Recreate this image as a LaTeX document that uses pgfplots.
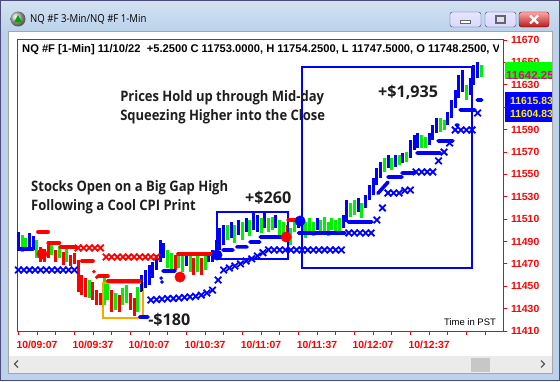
\documentclass[border=0pt]{standalone}
\usepackage{pgfplots}
\pgfplotsset{compat=1.18}
\usepackage{pgfplotstable}
\usepackage{fontspec}
\setmainfont{Liberation Sans}
\newfontfamily\uifont{Open Sans}[FakeStretch=0.875]
\IfFontExistsTF{Open Sans SemiBold}{\newfontfamily\annotf{Open Sans SemiBold}\newfontfamily\annotn{Open Sans SemiBold}[FakeStretch=0.9]\def\annot{\annotf}\def\annotnarrow{\annotn}}{\newfontfamily\annotf{Open Sans}\newfontfamily\annotn{Open Sans}[FakeStretch=0.9]\def\annot{\annotf\bfseries}\def\annotnarrow{\annotn\bfseries}}
\definecolor{frame}{HTML}{BCD2EA}
\definecolor{titletop}{HTML}{D3E2F2}
\definecolor{barblue}{HTML}{0000FF}
\definecolor{bargreen}{HTML}{00F000}
\definecolor{barred}{HTML}{FF0000}
\definecolor{boxorange}{HTML}{FFA500}
\definecolor{txt}{HTML}{1E1E1E}

\pgfplotstableread{
t lo hi
-10 11484.2 11498.4
-4 11485.1 11497.6
-2 11482.4 11494.9
56 11444.8 11460.0
58 11448.4 11464.5
60 11451.1 11469.0
62 11457.3 11471.6
64 11464.5 11477.9
66 11471.6 11491.3
68 11475.2 11488.7
80 11468.1 11480.6
92 11471.6 11479.7
94 11471.6 11482.4
96 11475.2 11491.3
98 11482.4 11502.0
100 11486.8 11504.7
104 11493.1 11507.4
108 11495.8 11509.2
112 11498.4 11511.0
116 11500.2 11515.4
118 11498.4 11513.6
122 11502.0 11515.4
128 11502.0 11513.6
140 11502.0 11511.0
150 11500.2 11511.0
164 11502.0 11513.6
166 11507.4 11527.0
172 11516.3 11528.8
176 11519.9 11531.5
178 11527.0 11540.4
180 11531.5 11546.7
182 11540.4 11555.6
184 11546.7 11561.0
188 11555.6 11567.2
192 11556.5 11567.2
196 11560.1 11569.0
200 11564.6 11580.7
202 11571.7 11585.1
204 11573.5 11586.9
210 11576.2 11586.9
212 11580.7 11594.1
214 11586.9 11600.3
220 11594.1 11605.7
222 11600.3 11616.4
224 11609.2 11625.3
226 11618.2 11638.7
228 11623.5 11643.2
232 11620.9 11636.0
234 11629.8 11647.7
236 11636.0 11650.3
}\bluebars

\pgfplotstableread{
t lo hi
-8 11480.6 11495.8
-6 11482.4 11493.1
0 11475.2 11491.3
8 11477.9 11488.7
12 11475.2 11486.0
16 11471.6 11484.2
28 11439.5 11455.6
36 11433.2 11457.3
38 11437.7 11455.6
42 11428.8 11443.9
46 11433.2 11448.4
48 11435.0 11451.1
54 11427.0 11449.3
70 11466.3 11482.4
72 11464.5 11479.7
76 11466.3 11480.6
78 11462.7 11478.8
82 11462.7 11477.9
86 11462.7 11477.0
90 11464.5 11477.9
102 11491.3 11504.7
106 11488.7 11504.7
110 11491.3 11507.4
114 11494.9 11509.2
120 11497.6 11511.0
124 11498.4 11511.0
126 11500.2 11511.8
130 11495.8 11509.2
132 11493.1 11507.4
136 11486.8 11502.0
138 11498.4 11509.2
142 11495.8 11509.2
144 11493.1 11507.4
146 11498.4 11511.0
148 11494.9 11507.4
152 11495.8 11509.2
154 11498.4 11511.8
156 11494.9 11507.4
158 11500.2 11511.0
160 11496.7 11509.2
162 11498.4 11511.0
168 11511.8 11524.4
170 11513.6 11527.0
174 11511.0 11524.4
186 11552.1 11564.6
190 11553.8 11564.6
194 11558.3 11567.2
198 11561.0 11569.9
206 11573.5 11585.1
208 11573.5 11583.3
216 11587.8 11600.3
218 11589.6 11598.5
230 11616.4 11629.8
238 11636.9 11647.7
}\greenbars

\pgfplotstableread{
t lo hi
2 11471.6 11485.1
4 11471.6 11483.3
6 11475.2 11486.8
10 11471.6 11482.4
14 11469.0 11480.6
18 11468.1 11477.9
20 11469.9 11479.7
22 11444.8 11473.4
24 11442.2 11460.0
26 11440.4 11457.3
30 11437.7 11453.8
32 11433.2 11446.6
34 11433.2 11443.9
40 11427.0 11446.6
44 11427.0 11442.2
50 11428.8 11443.9
52 11423.4 11439.5
74 11464.5 11477.9
84 11460.0 11475.2
88 11460.0 11475.2
134 11491.3 11504.7
}\redbars

\pgfplotstableread{
t p
-10 11464.5
-7 11464.5
-4 11464.5
-1 11464.5
2 11464.5
5 11464.5
8 11464.5
11 11464.5
14 11464.5
17 11464.5
20 11464.5
61 11437.7
64 11438.0
67 11438.5
70 11439.0
73 11439.0
76 11439.5
79 11440.0
82 11440.5
85 11441.0
88 11442.0
91 11444.0
94 11446.6
97 11455.6
100 11464.5
103 11466.3
106 11468.1
109 11470.0
112 11472.5
115 11474.5
118 11477.0
121 11480.0
124 11482.4
127 11482.4
130 11482.4
133 11482.4
136 11482.4
139 11482.4
142 11482.4
145 11482.4
148 11482.4
151 11482.4
154 11482.4
157 11482.4
160 11482.4
163 11482.4
167 11497.6
170 11497.6
173 11497.6
176 11497.6
179 11497.6
182 11509.2
185 11520.0
188 11533.3
191 11533.3
194 11533.3
197 11535.5
200 11536.0
203 11552.1
206 11552.1
209 11552.1
212 11552.1
215 11562.0
218 11569.9
221 11578.0
224 11589.6
227 11589.6
230 11589.6
233 11589.6
236 11604.8
}\bluex

\pgfplotstableread{
t p
22 11484.2
25 11484.2
28 11484.2
31 11484.2
34 11484.2
37 11476.1
40 11476.1
43 11476.1
46 11476.1
49 11476.1
52 11476.1
55 11476.1
58 11476.1
61 11476.1
64 11476.1
}\redx

\pgfplotstableread{
t p
0.5 11498.4
6 11498.4
nan nan
6 11488.7
12 11488.7
nan nan
12.5 11485.0
21 11485.0
nan nan
24 11472.5
30 11472.5
nan nan
33 11459.1
38 11459.1
nan nan
38 11454.7
55 11454.7
nan nan
75.5 11479.0
94 11479.0
nan nan
134.5 11509.2
141 11509.2
}\reddash

\pgfplotstableread{
t p
-10.7 11483.3
-2 11483.3
nan nan
67.5 11463.6
74 11463.6
nan nan
99.6 11482.4
105 11482.4
nan nan
107 11485.1
112.5 11485.1
nan nan
114 11489.5
119.4 11489.5
nan nan
119.5 11494.0
131.8 11494.0
nan nan
140 11497.6
165 11497.6
nan nan
166.6 11507.4
179.4 11507.4
nan nan
182.6 11533.0
188 11543.0
nan nan
188 11547.6
195.5 11547.6
nan nan
195.5 11551.2
202.5 11551.2
nan nan
203.5 11569.0
216 11569.0
nan nan
214.8 11579.8
222.8 11579.8
nan nan
224.5 11594.0
225.5 11594.0
nan nan
226.6 11607.5
234.6 11607.5
nan nan
235.7 11616.4
238.3 11616.4
nan nan
55 11422.5
59.5 11422.5
}\bluedash

\begin{document}
\begin{tikzpicture}[x=1bp,y=1bp]
\useasboundingbox (0,0) rectangle (560,381);
\fill[white] (0,0) rectangle (560,381);
\begin{axis}[
  at={(17bp,50bp)}, anchor=south west,
  width=486bp, height=291bp, scale only axis,
  xmin=-10.7, xmax=249.6, ymin=11410, ymax=11670,
  axis line style={barred, line width=1bp},
  xtick={0,30,...,210},
  xticklabels={10/09:07,10/09:37,10/10:07,10/10:37,10/11:07,10/11:37,10/12:07,10/12:37},
  minor xtick={-10,10,20,40,50,70,80,100,110,130,140,160,170,190,200,220,230,240},
  ytick={11410,11430,...,11670},
  yticklabels={11410,11430,11450,11470,11490,11510,11530,11550,11570,11590,{},11630,11650,11670},
  xtick pos=bottom, ytick pos=right, yticklabel pos=right,
  tick align=outside, major tick length=4bp, minor tick length=4bp,
  tick style={barred, line width=0.8bp},
  ticklabel style={font=\bfseries\fontsize{10.4}{12}\selectfont, text=barred},
  xticklabel style={yshift=-2bp},
  yticklabel style={xshift=0.5bp},
  unbounded coords=jump,
]
\addplot[draw=none, mark=none, forget plot, error bars/.cd, y dir=plus, y explicit, error mark=none, error bar style={draw=bargreen, line width=3bp}] table[x=t, y=lo, y error expr=\thisrow{hi}-\thisrow{lo}] {\greenbars};
\addplot[draw=none, mark=none, forget plot, error bars/.cd, y dir=plus, y explicit, error mark=none, error bar style={draw=barred, line width=3bp}] table[x=t, y=lo, y error expr=\thisrow{hi}-\thisrow{lo}] {\redbars};
\addplot[draw=none, mark=none, forget plot, error bars/.cd, y dir=plus, y explicit, error mark=none, error bar style={draw=barblue, line width=3bp}] table[x=t, y=lo, y error expr=\thisrow{hi}-\thisrow{lo}] {\bluebars};

\draw[boxorange, line width=2bp] (axis cs:35.4,11421.6) rectangle (axis cs:56.8,11452.9);
\draw[barblue, line width=2bp] (axis cs:96.4,11474.3) rectangle (axis cs:134.4,11516.3);
\draw[barblue, line width=2bp] (axis cs:141.9,11466.3) rectangle (axis cs:233,11645.9);

\addplot[barred, line width=3.6bp, line cap=round, forget plot] table[x=t,y=p] {\reddash};
\addplot[barblue, line width=3.6bp, line cap=round, forget plot] table[x=t,y=p] {\bluedash};
\addplot[only marks, mark=x, mark size=4.6bp, mark options={line width=1.8bp}, barred, forget plot] table[x=t,y=p] {\redx};
\addplot[only marks, mark=x, mark size=4.6bp, mark options={line width=1.8bp}, barblue, forget plot] table[x=t,y=p] {\bluex};
\addplot[only marks, mark=*, mark size=1.6bp, barred, forget plot] coordinates {(30.5,11463) (32,11458)};
\addplot[only marks, mark=*, mark size=1.6bp, barblue, forget plot] coordinates {(66.5,11457.3) (67,11453.8)};
\addplot[only marks, mark=*, mark size=5.2bp, barred, forget plot] coordinates {(2.7,11478.8) (76.6,11458.2) (133.4,11494)};
\addplot[only marks, mark=*, mark size=5.2bp, barblue, forget plot] coordinates {(96.4,11477.9) (140.9,11508.3)};
\addplot[black, line width=2bp, forget plot] coordinates {(56.5,11446) (56.5,11455)};

\node[anchor=west, inner sep=0, align=left, text=txt, font=\annotnarrow\fontsize{14.5}{19}\selectfont] at (axis cs:44.5,11609.7) {Prices Hold up through Mid-day\\Squeezing Higher into the Close};
\node[anchor=west, inner sep=0, align=left, text=txt, font=\annotnarrow\fontsize{14.5}{19}\selectfont] at (axis cs:-3.2,11529.8) {Stocks Open on a Big Gap High\\Following a Cool CPI Print};
\node[anchor=west, inner sep=0, text=txt, font=\annot\fontsize{16.2}{18}\selectfont] at (axis cs:111.4,11529.0) {+\$260};
\node[anchor=west, inner sep=0, text=txt, font=\annot\fontsize{16.2}{18}\selectfont] at (axis cs:182.6,11623.5) {+\$1,935};
\node[anchor=west, inner sep=0, text=txt, font=\annot\fontsize{16.2}{18}\selectfont] at (axis cs:59.5,11419.8) {-\$180};
\end{axis}

% header line
\begin{scope}
\clip (17,300) rectangle (498,345);
\node[anchor=west, inner sep=0, font=\bfseries\fontsize{11.2}{12}\selectfont] at (22,331) {NQ \#F [1-Min] 11/10/22\ \ +5.2500 C 11753.0000, H 11754.2500, L 11747.5000, O 11748.2500, V};
\end{scope}
\node[anchor=center, inner sep=0, font=\fontsize{9.5}{11}\selectfont] at (470,59) {Time in PST};

% price tags
\fill[green] (505,302) rectangle (560,319);
\node[anchor=west, inner sep=0, text height=8bp, text depth=0bp, text=magenta, font=\bfseries\fontsize{11.6}{12}\selectfont] at (506,306) {11642.25};
\fill[barblue] (505,259) rectangle (560,289);
\node[anchor=base west, inner sep=0, text height=7.5bp, text depth=0bp, text=yellow, font=\bfseries\fontsize{10.4}{11}\selectfont] at (510,276.5) {11615.83};
\node[anchor=base west, inner sep=0, text height=7.5bp, text depth=0bp, text=yellow, font=\bfseries\fontsize{10.4}{11}\selectfont] at (510,263.5) {11604.83};

% scroll bar
\fill[black!8] (8,8) rectangle (552,25);
\fill[black!22] (471,9.5) rectangle (490,23.5);
\draw[black!65, line width=1.3bp] (18,20.5) -- (14.5,17) -- (18,13.5);
\draw[black!65, line width=1.3bp] (541,20.5) -- (544.5,17) -- (541,13.5);

% window frame
\fill[frame, even odd rule] (0,0) rectangle (560,381) (8,8) rectangle (552,350);
\shade[top color=titletop, bottom color=frame] (0,350) rectangle (560,381);
\draw[black!35, line width=0.6bp] (8,8) rectangle (552,350);
\draw[black!55!blue!40!gray, line width=1bp] (0.5,0.5) rectangle (559.5,380.5);

% icon and title
\shade[ball color=black!25] (18,362) circle (7.5);
\fill[green!65!black] (14,358.5) -- (22,358.5) -- (18,366) -- cycle;
\node[anchor=west, inner sep=0, font=\uifont\fontsize{11}{13}\selectfont, text=black] at (30,362) {NQ \#F 3-Min/NQ \#F 1-Min};

% buttons
\draw[rounded corners=2.5bp, draw=black!45!blue!50!gray, top color=white!90!blue, bottom color=black!10!blue!15] (450,354) rectangle (481,369);
\draw[fill=white, draw=black!60] (460.5,357.5) rectangle (470.5,360.5);
\draw[rounded corners=2.5bp, draw=black!45!blue!50!gray, top color=white!90!blue, bottom color=black!10!blue!15] (485,354) rectangle (516,369);
\draw[draw=black!60, line width=1.6bp] (496,358) rectangle (505,365);
\draw[rounded corners=2.5bp, draw=red!40!black, top color=red!35!white, bottom color=red!70!black!90] (519,354) rectangle (549,369);
\draw[white, line width=2.2bp] (530,357.5) -- (538,365.5) (530,365.5) -- (538,357.5);
\end{tikzpicture}
\end{document}
